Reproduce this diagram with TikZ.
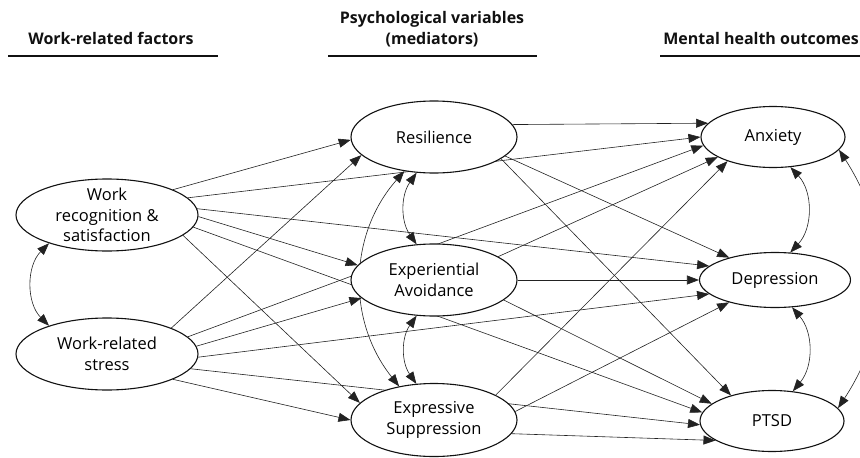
\documentclass[tikz,border=0pt]{standalone}
\usepackage{fontspec}
\setmainfont{Open Sans}
\usepackage{xcolor}
\usetikzlibrary{arrows.meta, backgrounds, shapes.geometric}
\definecolor{kink}{HTML}{111111}
\definecolor{kline}{HTML}{222222}

\begin{document}
\begin{tikzpicture}[x=1pt, y=-1pt,
  latent/.style={ellipse, draw=kink, line width=1.1pt, fill=white,
    inner xsep=0pt, inner ysep=-12pt, align=center,
    font=\fontsize{16.5}{20.5}\selectfont},
  effect/.style={-{Triangle[length=12pt, width=9pt]}, draw=kline, line width=0.6pt},
  covar/.style={{Triangle[length=12pt, width=9pt]}-{Triangle[length=12pt, width=9pt]},
    draw=kline, line width=0.6pt},
  header/.style={align=center, text=kink, font=\fontsize{16}{20.5}\selectfont\bfseries},
  rulebar/.style={draw=kink, line width=1.8pt}]

  \useasboundingbox (0,0) rectangle (860,458);
  \clip (0,0) rectangle (860,458);

  %% Column headers
  \node[header] (hwork) at (111,38) {Work-related factors};
  \node[header] (hpsy) at (432,29) {Psychological variables\\(mediators)};
  \node[header, anchor=east, inner xsep=1pt] (hout) at (860,38) {Mental health outcomes};
  \draw[rulebar] (8,56) -- (218,56);
  \draw[rulebar] (328,56) -- (537,56);
  \draw[rulebar] (660,56) -- (870,56);

  %% Work-related factors
  \node[latent, minimum width=182, minimum height=72] (wrs) at (107,215)
    {Work\\recognition \&\\satisfaction};
  \node[latent, minimum width=182, minimum height=72] (wst) at (107,354)
    {Work-related\\stress};

  %% Mediators
  \node[latent, minimum width=166, minimum height=72] (res) at (434,137) {Resilience};
  \node[latent, minimum width=166, minimum height=72] (eav) at (434,280)
    {Experiential\\Avoidance};
  \node[latent, minimum width=166, minimum height=73] (esp) at (434,420)
    {Expressive\\Suppression};

  %% Outcomes
  \node[latent, minimum width=144, minimum height=61] (anx) at (773,137) {Anxiety};
  \node[latent, minimum width=151, minimum height=55] (dep) at (775,280) {Depression};
  \node[latent, minimum width=144, minimum height=61] (pts) at (772,421) {PTSD};

  \begin{scope}[on background layer]
    %% Paths (source/angle/target/angle)
    \foreach \a/\sa/\b/\tb in {
      wrs/21/res/182, wrs/12/anx/180, wrs/4/dep/168,
      wrs/-1/eav/169, wrs/-8/pts/173, wrs/-15/esp/167,
      wst/22/res/194, wst/12/anx/187, wst/5/eav/194,
      wst/-2/dep/192, wst/-10/pts/183, wst/-21/esp/180,
      res/9/anx/168, res/-15/dep/154, res/-18/pts/148,
      eav/20/anx/200, eav/0/dep/180, eav/-16/pts/164,
      esp/22/anx/208, esp/6/dep/206, esp/-10/pts/199
    }{
      \draw[effect] (\a.\sa) -- (\b.\tb);
    }

    %% Covariances
    \draw[covar] (wrs.206) to[bend right=45] (wst.154);
    \draw[covar] (res.244) to[bend right=35] (eav.116);
    \draw[covar] (eav.244) to[bend right=35] (esp.116);
    \draw[covar] (res.229) to[bend right=40] (esp.136);
    \draw[covar] (anx.300) to[bend left=43] (dep.61);
    \draw[covar] (dep.302) to[bend left=40] (pts.55);
    \draw[covar] (anx.349) to[bend left=33] (pts.11);
  \end{scope}

\end{tikzpicture}
\end{document}
